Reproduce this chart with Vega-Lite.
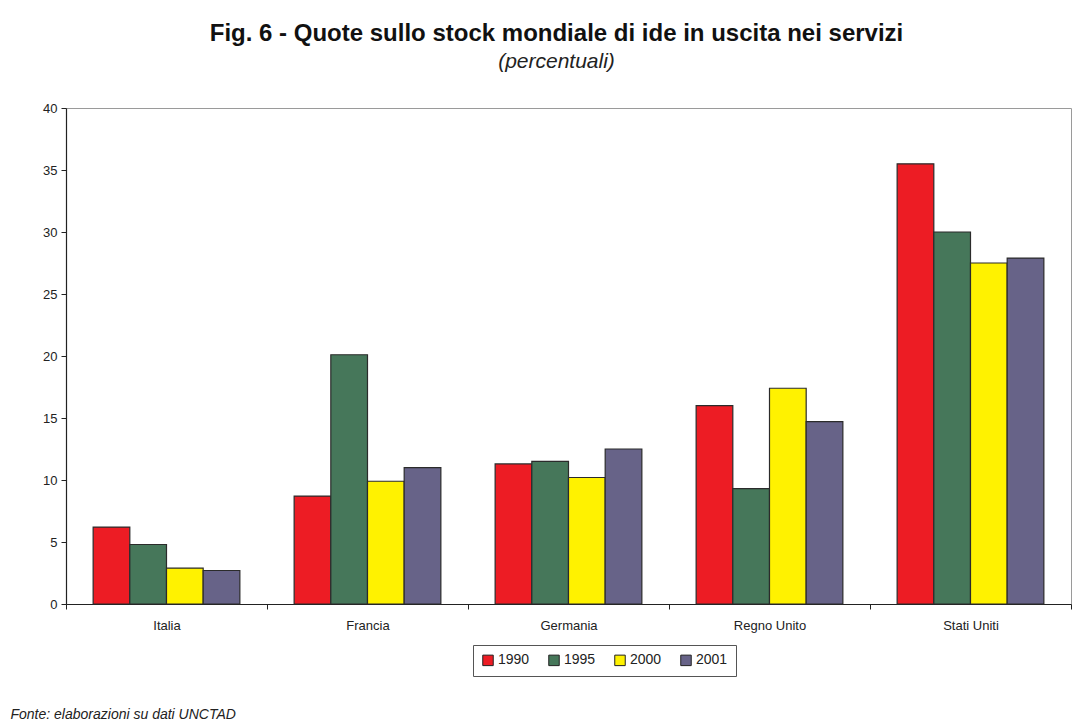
{
  "$schema": "https://vega.github.io/schema/vega-lite/v6.json",
  "autosize": "none",
  "width": 1005,
  "height": 496,
  "padding": {"left": 66, "top": 108, "right": 21, "bottom": 123},
  "background": "white",
  "config": {
    "font": "Liberation Sans",
    "view": {"stroke": "#9a9a9a", "strokeWidth": 1}
  },
  "title": {
    "text": "Fig. 6 - Quote sullo stock mondiale di ide in uscita nei servizi",
    "subtitle": "(percentuali)",
    "fontSize": 24,
    "fontWeight": "bold",
    "color": "#111",
    "subtitleFontSize": 21,
    "subtitleFontStyle": "italic",
    "subtitleColor": "#222",
    "subtitlePadding": 5,
    "anchor": "middle",
    "frame": "group",
    "dx": -12,
    "offset": 30
  },
  "data": {
    "values": [
      {"paese": "Italia", "anno": "1990", "quota": 6.2},
      {"paese": "Italia", "anno": "1995", "quota": 4.8},
      {"paese": "Italia", "anno": "2000", "quota": 2.9},
      {"paese": "Italia", "anno": "2001", "quota": 2.7},
      {"paese": "Francia", "anno": "1990", "quota": 8.7},
      {"paese": "Francia", "anno": "1995", "quota": 20.1},
      {"paese": "Francia", "anno": "2000", "quota": 9.9},
      {"paese": "Francia", "anno": "2001", "quota": 11.0},
      {"paese": "Germania", "anno": "1990", "quota": 11.3},
      {"paese": "Germania", "anno": "1995", "quota": 11.5},
      {"paese": "Germania", "anno": "2000", "quota": 10.2},
      {"paese": "Germania", "anno": "2001", "quota": 12.5},
      {"paese": "Regno Unito", "anno": "1990", "quota": 16.0},
      {"paese": "Regno Unito", "anno": "1995", "quota": 9.3},
      {"paese": "Regno Unito", "anno": "2000", "quota": 17.4},
      {"paese": "Regno Unito", "anno": "2001", "quota": 14.7},
      {"paese": "Stati Uniti", "anno": "1990", "quota": 35.5},
      {"paese": "Stati Uniti", "anno": "1995", "quota": 30.0},
      {"paese": "Stati Uniti", "anno": "2000", "quota": 27.5},
      {"paese": "Stati Uniti", "anno": "2001", "quota": 27.9}
    ]
  },
  "mark": {"type": "bar", "stroke": "#2b2b2b", "strokeWidth": 1.2},
  "encoding": {
    "x": {
      "field": "paese",
      "type": "nominal",
      "sort": ["Italia", "Francia", "Germania", "Regno Unito", "Stati Uniti"],
      "scale": {"paddingInner": 0, "paddingOuter": 0},
      "axis": {
        "title": "Fonte: elaborazioni su dati UNCTAD",
        "titleFontSize": 14,
        "titleFontStyle": "italic",
        "titleFontWeight": "normal",
        "titleColor": "#222",
        "titleAnchor": "start",
        "titleAlign": "left",
        "titleBaseline": "alphabetic",
        "titleX": -56,
        "titleY": 114,
        "labelAngle": 0,
        "labelFontSize": 13,
        "labelColor": "#222",
        "labelPadding": 10,
        "tickBand": "extent",
        "tickSize": 5,
        "tickColor": "#222",
        "domainColor": "#222",
        "domainWidth": 1.2
      }
    },
    "xOffset": {
      "field": "anno",
      "type": "nominal",
      "scale": {"paddingInner": 0, "paddingOuter": 0.74}
    },
    "y": {
      "field": "quota",
      "type": "quantitative",
      "scale": {"domain": [0, 40], "nice": false},
      "axis": {
        "title": null,
        "values": [0, 5, 10, 15, 20, 25, 30, 35, 40],
        "grid": false,
        "labelFontSize": 13,
        "labelColor": "#222",
        "labelPadding": 4,
        "tickSize": 5,
        "tickColor": "#222",
        "domainColor": "#222",
        "domainWidth": 1.2
      }
    },
    "color": {
      "field": "anno",
      "type": "nominal",
      "scale": {
        "domain": ["1990", "1995", "2000", "2001"],
        "range": ["#ED1C24", "#46775A", "#FFF200", "#676388"]
      },
      "legend": {
        "title": null,
        "orient": "none",
        "direction": "horizontal",
        "legendX": 407,
        "legendY": 537,
        "strokeColor": "#555",
        "fillColor": "white",
        "padding": 8,
        "symbolType": "square",
        "symbolSize": 110,
        "symbolStrokeColor": "#222",
        "symbolStrokeWidth": 1,
        "symbolOpacity": 1,
        "labelFontSize": 14,
        "labelColor": "#222",
        "labelOffset": 3,
        "columnPadding": 16
      }
    }
  }
}
